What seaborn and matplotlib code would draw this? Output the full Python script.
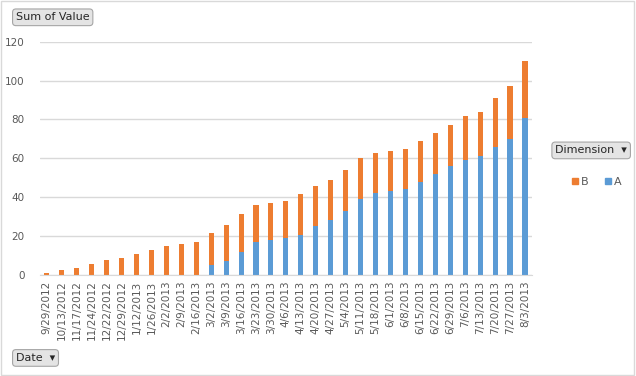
import seaborn as sns
import numpy as np
import matplotlib.pyplot as plt
from matplotlib.patches import Rectangle
from matplotlib.lines import Line2D

dates = ['9/29/2012', '10/13/2012', '11/17/2012', '11/24/2012', '12/22/2012',
         '12/29/2012', '1/12/2013', '1/26/2013', '2/2/2013', '2/9/2013',
         '2/16/2013', '3/2/2013', '3/9/2013', '3/16/2013', '3/23/2013',
         '3/30/2013', '4/6/2013', '4/13/2013', '4/20/2013', '4/27/2013',
         '5/4/2013', '5/11/2013', '5/18/2013', '6/1/2013', '6/8/2013',
         '6/15/2013', '6/22/2013', '6/29/2013', '7/6/2013', '7/13/2013',
         '7/20/2013', '7/27/2013', '8/3/2013']
a_vals = [0, 0, 0, 0, 0, 0, 0, 0, 0, 0, 0,
          5, 7, 12, 17, 18, 19, 20.5, 25, 28, 33, 39, 42, 43, 44, 48, 52,
          56, 59, 61, 66, 70, 81]
b_vals = [1, 2.6, 3.6, 5.7, 7.7, 8.7, 10.8, 12.9, 14.9, 15.8, 17,
          16.8, 18.8, 19.1, 19, 18.8, 19.1, 21.3, 20.8, 20.9, 21, 21.2, 20.7,
          20.8, 20.8, 20.9, 21, 21.1, 22.8, 22.8, 25, 27.2, 29.1]

blue = '#5B9BD5'
orange = '#ED7D31'
grey = '#595959'

sns.set_style('white')
plt.rcParams['font.family'] = ['DejaVu Sans']

totals = np.array(a_vals) + np.array(b_vals)

fig = plt.figure(figsize=(6.36, 3.76), dpi=100)
ax = fig.add_axes([0.063, 0.269, 0.773, 0.62])
sns.barplot(x=dates, y=totals, color=orange, width=0.34, saturation=1,
            linewidth=0, ax=ax)
sns.barplot(x=dates, y=a_vals, color=blue, width=0.34, saturation=1,
            linewidth=0, ax=ax)

ax.set_ylim(0, 120)
ax.set_xlim(-0.45, len(dates) - 0.55)
ax.set_yticks(range(0, 121, 20))
ax.yaxis.grid(True, color='#d9d9d9', linewidth=1)
ax.set_axisbelow(True)
for s in ['top', 'right', 'left']:
    ax.spines[s].set_visible(False)
ax.spines['bottom'].set_color('#d9d9d9')
ax.tick_params(axis='x', rotation=90, labelsize=7.5, colors=grey, length=0, pad=4)
ax.tick_params(axis='y', labelsize=7.5, colors=grey, length=0, pad=11)
ax.set_xlabel('')
ax.set_ylabel('')

# field buttons
btn = dict(boxstyle='round,pad=0.3,rounding_size=0.3', facecolor='#e4e4e4',
           edgecolor='#a6a6a6', linewidth=0.8)
fig.text(0.025, 0.954, 'Sum of Value', fontsize=8, color='#262626',
         va='center', ha='left', bbox=btn)
fig.text(0.025, 0.048, 'Date  \u25BE', fontsize=8, color='#262626',
         va='center', ha='left', bbox=btn)
fig.text(0.873, 0.6, 'Dimension  \u25BE', fontsize=8, color='#262626',
         va='center', ha='left', bbox=btn)

handles = [Line2D([], [], marker='s', linestyle='', color=orange, markersize=5),
           Line2D([], [], marker='s', linestyle='', color=blue, markersize=5)]
fig.legend(handles, ['B', 'A'], ncol=2, loc='center', bbox_to_anchor=(0.937, 0.517),
           frameon=False, fontsize=8, labelcolor=grey, handletextpad=0.1,
           columnspacing=1.4, handlelength=0.8)

fig.add_artist(Rectangle((0.002, 0.003), 0.995, 0.994, transform=fig.transFigure,
                         fill=False, edgecolor='#d9d9d9', linewidth=1))

plt.savefig('out.png', dpi=100)
